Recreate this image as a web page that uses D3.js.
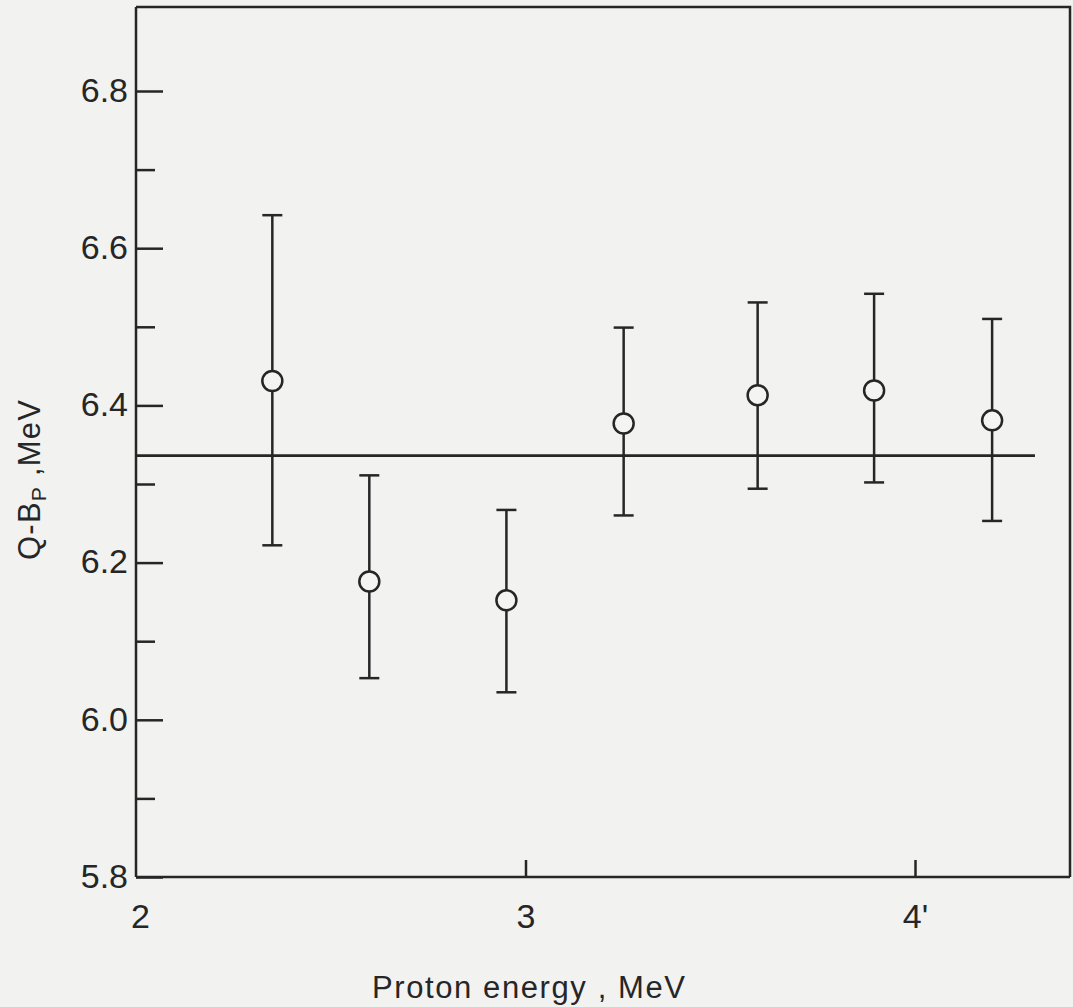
<!DOCTYPE html>
<html>
<head>
<meta charset="utf-8">
<script src="https://cdn.jsdelivr.net/npm/d3@7"></script>
<style>
  html, body { margin: 0; padding: 0; background: #f2f2f1; }
  svg { display: block; }
  .axis path, .axis line { stroke: #262626; stroke-width: 2.5; }
  .axis text { font-family: "Liberation Sans", Arial, sans-serif; font-size: 34px; fill: #262626; }
  .title { font-family: "Liberation Sans", Arial, sans-serif; font-size: 31px; fill: #262626; }
</style>
</head>
<body>
<div id="chart"></div>
<script>
// values
const energy  = [2.350, 2.599, 2.951, 3.252, 3.596, 3.895, 4.198];
const qValue  = [6.431, 6.176, 6.152, 6.377, 6.413, 6.419, 6.381];
const errHigh = [6.642, 6.311, 6.267, 6.499, 6.531, 6.542, 6.510];
const errLow  = [6.222, 6.053, 6.035, 6.260, 6.294, 6.302, 6.253];
const meanLevel = 6.336;
const meanSpan = [2, 4.308];

const xTicks = [2, 3, 4];
const xTickLabels = ["2", "3", "4'"];
const yMajor = [5.8, 6.0, 6.2, 6.4, 6.6, 6.8];
const yMinor = [5.9, 6.1, 6.3, 6.5, 6.7];

const W = 1073, H = 1007;
const ink = "#262626";

const svg = d3.select("#chart").append("svg")
  .attr("width", W)
  .attr("height", H);

const x = d3.scaleLinear().domain([2, 4]).range([136, 915]);
const y = d3.scaleLinear().domain([5.8, 6.8]).range([877, 91]);

const frameL = x(2), frameR = 1070, frameT = 7, frameB = y(5.8);

// frame (top and right sides)
svg.append("path")
  .attr("d", `M${frameL},${frameT}H${frameR}V${frameB}`)
  .attr("fill", "none")
  .attr("stroke", ink)
  .attr("stroke-width", 2.5);

// y axis, ticks pointing inwards
svg.append("g")
  .classed("axis", true)
  .attr("transform", `translate(${frameL},0)`)
  .call(d3.axisLeft(y).tickValues(yMinor).tickSizeInner(-19).tickSizeOuter(0).tickFormat(""))
  .call(g => g.select(".domain").remove());

svg.append("g")
  .classed("axis", true)
  .attr("transform", `translate(${frameL},0)`)
  .call(d3.axisLeft(y).tickValues(yMajor).tickSizeInner(-27).tickSizeOuter(0)
    .tickPadding(8).tickFormat(d3.format(".1f")))
  .call(g => g.select(".domain").attr("d", `M0,${frameT}V${frameB}`))
  .call(g => g.selectAll("text").attr("dy", "0.3em"));

// x axis
svg.append("g")
  .classed("axis", true)
  .attr("transform", `translate(0,${frameB})`)
  .call(d3.axisBottom(x).tickValues(xTicks).tickSizeInner(-17).tickSizeOuter(0)
    .tickPadding(27).tickFormat((d, i) => xTickLabels[i]))
  .call(g => g.select(".domain").attr("d", `M${frameL},0H${frameR}`))
  .call(g => g.selectAll(".tick").filter(d => d === 2).select("line").remove())
  .call(g => g.selectAll(".tick").filter(d => d === 2).select("text").attr("dx", 4));

// mean level line
svg.append("line")
  .attr("x1", x(meanSpan[0])).attr("x2", x(meanSpan[1]))
  .attr("y1", y(meanLevel)).attr("y2", y(meanLevel))
  .attr("stroke", ink)
  .attr("stroke-width", 2.8);

// error bars + open circles
const pts = energy.map((e, i) => ({e, q: qValue[i], hi: errHigh[i], lo: errLow[i]}));
const capW = 10, R = 10;
const bars = svg.append("g").selectAll("g").data(pts).join("g");

bars.append("line")
  .attr("x1", d => x(d.e)).attr("x2", d => x(d.e))
  .attr("y1", d => y(d.hi)).attr("y2", d => y(d.lo));
bars.append("line")
  .attr("x1", d => x(d.e) - capW).attr("x2", d => x(d.e) + capW)
  .attr("y1", d => y(d.hi)).attr("y2", d => y(d.hi));
bars.append("line")
  .attr("x1", d => x(d.e) - capW).attr("x2", d => x(d.e) + capW)
  .attr("y1", d => y(d.lo)).attr("y2", d => y(d.lo));
bars.selectAll("line")
  .attr("stroke", ink)
  .attr("stroke-width", 2.5);

bars.append("circle")
  .attr("cx", d => x(d.e))
  .attr("cy", d => y(d.q))
  .attr("r", R)
  .attr("fill", "#f4f4f3")
  .attr("stroke", ink)
  .attr("stroke-width", 2.5);

// axis titles
svg.append("text")
  .classed("title", true)
  .attr("x", 372)
  .attr("y", 998)
  .attr("textLength", 313)
  .attr("lengthAdjust", "spacing")
  .text("Proton  energy , MeV");

const ylab = svg.append("text")
  .classed("title", true)
  .attr("transform", "translate(40,560) rotate(-90)")
  .attr("textLength", 160)
  .attr("lengthAdjust", "spacing");
ylab.append("tspan").text("Q-B");
ylab.append("tspan").attr("font-size", 21).attr("dy", 6).text("P");
ylab.append("tspan").attr("dy", -6).text(" ,MeV");
</script>
</body>
</html>
